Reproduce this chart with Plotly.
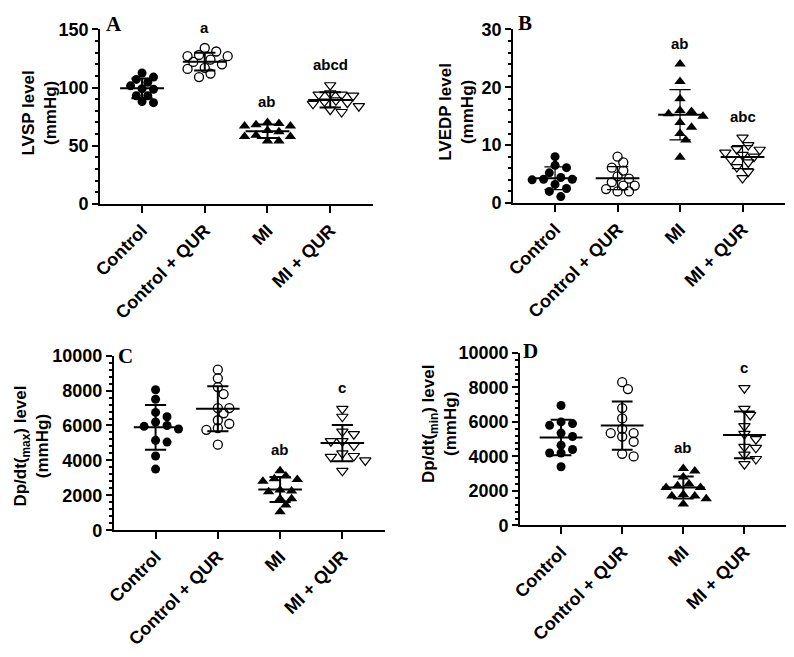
import numpy as np
import plotly.graph_objects as go

categories = ["Control", "Control + QUR", "MI", "MI + QUR"]

# Panel A: LVSP (mmHg)
lvsp_control = [112.5, 109, 107, 104.5, 101.5, 99, 98.5, 93, 93, 87, 88]
lvsp_control_qur = [134, 131, 128, 127, 127, 122, 124, 120, 117, 116, 112, 109]
lvsp_mi = [70, 68, 67, 67, 69, 63, 62, 58, 58, 59, 54, 54]
lvsp_mi_qur = [102, 95, 94, 93, 94, 89, 88, 87, 86, 84, 81, 79]

# Panel B: LVEDP (mmHg)
lvedp_control = [8.0, 6.1, 6.5, 5.2, 4.1, 4.1, 4.4, 4.0, 3.2, 2.5, 2.0, 1.1]
lvedp_control_qur = [8.0, 7.0, 6.1, 5.6, 4.6, 4.2, 3.6, 3.0, 3.0, 2.4, 2.0, 2.0]
lvedp_mi = [24.0, 21.0, 18.0, 16.0, 15.8, 15.4, 15.0, 13.9, 13.1, 12.0, 10.9, 7.9]
lvedp_mi_qur = [11.3, 10.0, 9.3, 9.2, 8.7, 8.3, 8.0, 7.5, 7.0, 6.2, 5.4, 4.3]

# Panel C: Dp/dt(max)
dpmax_control = [8050, 7500, 6500, 6750, 6200, 5950, 6000, 5800, 5050, 5150, 4250, 3500]
dpmax_control_qur = [9200, 8700, 8200, 7800, 7000, 7000, 6700, 6300, 6100, 5850, 5750, 4900]
dpmax_mi = [3400, 3100, 2950, 2900, 2800, 2300, 2250, 2200, 1800, 1800, 1450, 1050]
dpmax_mi_qur = [6950, 6500, 5500, 5650, 4850, 5100, 5100, 4200, 4000, 4250, 4400, 3400]

# Panel D: Dp/dt(min)
dpmin_control = [6950, 5800, 5900, 6000, 5350, 4400, 5150, 4650, 4200, 3400, 4200]
dpmin_control_qur = [8300, 7900, 6800, 6200, 5600, 5150, 5350, 5350, 4850, 4000, 4150]
dpmin_mi = [3300, 3150, 2800, 2400, 2200, 2200, 2300, 1800, 1700, 1550, 1700, 1250]
dpmin_mi_qur = [7950, 6750, 6400, 5750, 5300, 5000, 4550, 4500, 4100, 3550, 3850]

letters_a = ["", "a", "ab", "abcd"]
letters_b = ["", "", "ab", "abc"]
letters_c = ["", "", "ab", "c"]
letters_d = ["", "", "ab", "c"]

# the page body has an 8px default margin: size the figure so the page is 794x657
PAGE_M = 8
W, H = 794 - 2 * PAGE_M, 657 - 2 * PAGE_M
SANS = "Liberation Sans, Arial, sans-serif"
SERIF = "Liberation Serif, Times New Roman, serif"


def fx(px):
    return min(1.0, max(0.0, (px - PAGE_M) / W))


def fy(py):
    return min(1.0, max(0.0, 1 - (py - PAGE_M) / H))


panels = [
    dict(data=[lvsp_control, lvsp_control_qur, lvsp_mi, lvsp_mi_qur], letters=letters_a,
         px=(92, 368), py=(20, 204), yr=(0, 150), dt=50, minor=10,
         title="LVSP level<br>(mmHg)", tpos=(31, 108), label="A", lpos=(106, 14), sdw=2),
    dict(data=[lvedp_control, lvedp_control_qur, lvedp_mi, lvedp_mi_qur], letters=letters_b,
         px=(510, 785), py=(20, 203), yr=(0, 30), dt=10, minor=2,
         title="LVEDP level<br>(mmHg)", tpos=(453, 107), label="B", lpos=(522, 13), sdw=1.2),
    dict(data=[dpmax_control, dpmax_control_qur, dpmax_mi, dpmax_mi_qur], letters=letters_c,
         px=(106, 380), py=(364, 548), yr=(0, 10000), dt=2000, minor=400,
         title="Dp/dt(<sub>max</sub>) level<br>(mmHg)", tpos=(23, 459), label="C", lpos=(118, 364), sdw=2),
    dict(data=[dpmin_control, dpmin_control_qur, dpmin_mi, dpmin_mi_qur], letters=letters_d,
         px=(517, 786), py=(361, 543), yr=(0, 10000), dt=2000, minor=400,
         title="Dp/dt(<sub>min</sub>) level<br>(mmHg)", tpos=(436, 436), label="D", lpos=(528, 359), sdw=2),
]

markers = [
    dict(symbol="circle", size=9, color="black"),
    dict(symbol="circle-open", size=9, color="black", line=dict(width=1.3, color="black")),
    dict(symbol="triangle-up", size=10, color="black"),
    dict(symbol="triangle-down-open", size=10, color="black", line=dict(width=1.2, color="black")),
]

XR = (-0.67, 3.68)


def swarm(vals, ppx, ppy, d=8.0, step=5.8):
    vals = np.asarray(vals, dtype=float)
    order = np.argsort(-vals)
    placed = []
    offs = np.zeros(len(vals))
    cands = [0.0]
    for k in range(1, 30):
        cands += [k * step, -k * step]
    for i in order:
        y = vals[i] * ppy
        xs = 0.0
        for c in cands:
            if all((c - a) ** 2 + (y - b) ** 2 >= d * d for a, b in placed):
                xs = c
                break
        placed.append((xs, y))
        offs[i] = xs / ppx
    return offs


fig = go.Figure()
annotations = []
layout = {}

for pi, p in enumerate(panels):
    n = pi + 1
    xa = "x" if n == 1 else f"x{n}"
    ya = "y" if n == 1 else f"y{n}"
    x0, x1 = p["px"]
    y0, y1 = p["py"]
    ppx = (x1 - x0) / (XR[1] - XR[0])
    ppy = (y1 - y0) / (p["yr"][1] - p["yr"][0])
    for ci, vals in enumerate(p["data"]):
        offs = swarm(vals, ppx, ppy)
        fig.add_trace(go.Scatter(
            x=ci + offs, y=vals, mode="markers", marker=markers[ci],
            xaxis=xa, yaxis=ya, showlegend=False, cliponaxis=False, hoverinfo="y"))
        m = float(np.mean(vals))
        sd = float(np.std(vals, ddof=1))
        fig.add_trace(go.Scatter(x=[ci - 0.35, ci + 0.35], y=[m, m], mode="lines",
                                 line=dict(color="black", width=2), xaxis=xa, yaxis=ya,
                                 showlegend=False, hoverinfo="skip", cliponaxis=False))
        w = p["sdw"]
        fig.add_trace(go.Scatter(
            x=[ci, ci, None, ci - 0.17, ci + 0.17, None, ci - 0.17, ci + 0.17],
            y=[m - sd, m + sd, None, m + sd, m + sd, None, m - sd, m - sd],
            mode="lines", line=dict(color="black", width=w), xaxis=xa, yaxis=ya,
            showlegend=False, hoverinfo="skip", cliponaxis=False))
        lt = p["letters"][ci]
        if lt:
            rng = p["yr"][1] - p["yr"][0]
            annotations.append(dict(x=ci, y=max(vals) + 0.06 * rng, xref=xa, yref=ya,
                                    text=lt, showarrow=False, yanchor="bottom",
                                    font=dict(family=SANS, size=15, color="black", weight="bold")))
    layout["xaxis" if n == 1 else f"xaxis{n}"] = dict(
        domain=[fx(x0), fx(x1)], range=list(XR), anchor=ya,
        tickmode="array", tickvals=[0, 1, 2, 3], ticktext=categories, tickangle=-45,
        ticks="outside", ticklen=7, tickwidth=2, tickcolor="black",
        showline=True, linewidth=2, linecolor="black", showgrid=False, zeroline=False,
        tickfont=dict(family=SANS, size=18, color="black", weight="bold"))
    layout["yaxis" if n == 1 else f"yaxis{n}"] = dict(
        domain=[fy(y1), fy(y0)], range=list(p["yr"]), anchor=xa,
        tickmode="linear", tick0=0, dtick=p["dt"], tickformat="d",
        ticks="outside", ticklen=6, tickwidth=2, tickcolor="black",
        minor=dict(dtick=p["minor"], tick0=0, ticks="outside", ticklen=3, tickwidth=1.5,
                   tickcolor="black", showgrid=False),
        showline=True, linewidth=2, linecolor="black", showgrid=False, zeroline=False,
        tickfont=dict(family=SANS, size=18, color="black", weight="bold"))
    annotations.append(dict(x=fx(p["tpos"][0]), y=fy(p["tpos"][1]), xref="paper", yref="paper",
                            text=p["title"], textangle=-90, showarrow=False,
                            xanchor="center", yanchor="middle",
                            font=dict(family=SANS, size=17, color="black", weight="bold")))
    annotations.append(dict(x=fx(p["lpos"][0]), y=fy(p["lpos"][1]), xref="paper", yref="paper",
                            text=p["label"], showarrow=False, xanchor="center", yanchor="middle",
                            font=dict(family=SERIF, size=21, color="black", weight="bold")))

fig.update_layout(width=W, height=H, margin=dict(l=0, r=0, t=0, b=0),
                  paper_bgcolor="white", plot_bgcolor="white",
                  annotations=annotations, **layout)

fig.write_html("out.html")
